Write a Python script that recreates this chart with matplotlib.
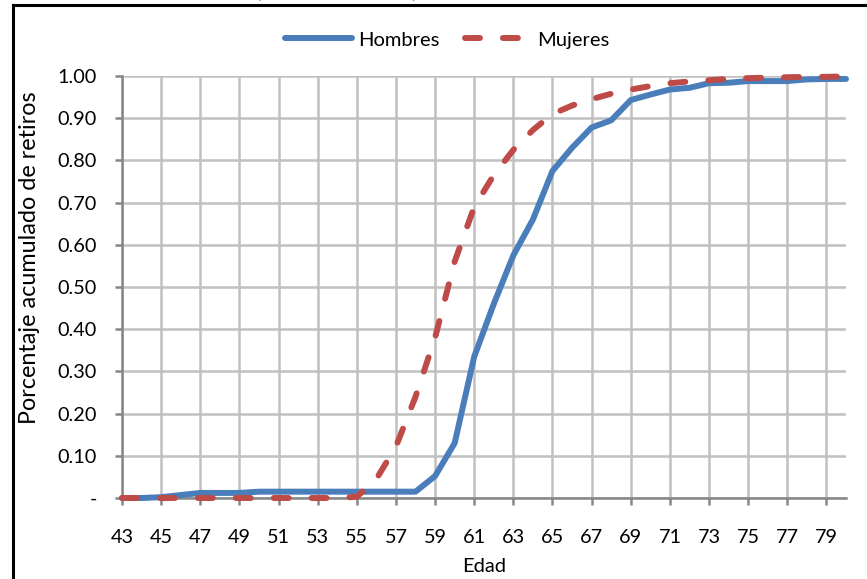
import matplotlib
matplotlib.use("Agg")
import matplotlib.pyplot as plt
from matplotlib.lines import Line2D
from matplotlib.ticker import FixedLocator, FuncFormatter

plt.rcParams['font.family'] = ['Lato', 'DejaVu Sans']

ages = list(range(43, 81))
hombres = [0.000, 0.000, 0.002, 0.007, 0.012, 0.012, 0.012, 0.015,
           0.015, 0.015, 0.015, 0.015, 0.015, 0.015, 0.015, 0.015,
           0.052, 0.130, 0.335, 0.460, 0.575, 0.660, 0.775, 0.830,
           0.878, 0.895, 0.943, 0.956, 0.968, 0.972, 0.983, 0.984,
           0.988, 0.988, 0.988, 0.992, 0.993, 0.993]
mujeres = [0.000, 0.000, 0.000, 0.000, 0.000, 0.000, 0.000, 0.000,
           0.000, 0.000, 0.000, 0.000, 0.003, 0.045, 0.122, 0.240,
           0.380, 0.560, 0.690, 0.765, 0.825, 0.872, 0.910, 0.930,
           0.945, 0.958, 0.968, 0.976, 0.983, 0.987, 0.990, 0.993,
           0.995, 0.996, 0.997, 0.998, 0.998, 0.999]
xticks = list(range(43, 80, 2))
yticks = [0.0, 0.1, 0.2, 0.3, 0.4, 0.5, 0.6, 0.7, 0.8, 0.9, 1.0]

W, H = 867, 579
fig = plt.figure(figsize=(W / 100, H / 100), dpi=100)
ax = fig.add_axes([122 / W, 1 - 498 / H, (846 - 122) / W, (498 - 76) / H])

blue = '#4a7ebb'
red = '#be4b48'
grid_c = '#c0c0c0'
spine_c = '#868686'

ax.plot(ages, hombres, color=blue, lw=4.3, solid_capstyle='round',
        solid_joinstyle='round', label='Hombres', zorder=3, clip_on=False)
ax.plot(ages, mujeres, color=red, lw=4.3, linestyle=(0, (2.5, 3.85)),
        dash_capstyle='round', label='Mujeres', zorder=4, clip_on=False)

ax.set_xlim(43, 80)
ax.set_ylim(0, 1.0)
ax.xaxis.set_major_locator(FixedLocator(xticks))
ax.yaxis.set_major_locator(FixedLocator(yticks))
ax.yaxis.set_major_formatter(FuncFormatter(lambda v, p: '-' if abs(v) < 1e-9 else f'{v:.2f}'))

ax.grid(True, color=grid_c, lw=1.8, zorder=0)
ax.set_axisbelow(True)
for s in ['top', 'right']:
    ax.spines[s].set_visible(False)
for s in ['left', 'bottom']:
    ax.spines[s].set_color(spine_c)
    ax.spines[s].set_linewidth(1.8)
    ax.spines[s].set_zorder(2)
ax.tick_params(axis='both', colors=spine_c, width=1.8, length=5, labelcolor='black',
               labelsize=14.3, direction='out')
ax.tick_params(axis='x', pad=17)
ax.tick_params(axis='y', pad=13)

ax.set_xlabel('Edad', fontsize=14.5, labelpad=9)
ax.set_ylabel('Porcentaje acumulado de retiros', fontsize=16.8)
ax.yaxis.set_label_coords((40 - 122) / 724, (498 - 258) / 422)

fig.legend(loc='center', bbox_to_anchor=(0.516, 1 - 40 / H), ncol=2, frameon=False,
           fontsize=14.5, handlelength=3.3, handletextpad=0.3, columnspacing=1.25)

# outer frame
fig.add_artist(Line2D([13 / W, 1.0], [1 - 5 / H, 1 - 5 / H], transform=fig.transFigure,
                      color='black', lw=2.2))
fig.add_artist(Line2D([13 / W, 13 / W], [1 - 5 / H, 0], transform=fig.transFigure,
                      color='black', lw=2.2))
# cropped green title parentheses
fig.text(258 / W, 1 + 2 / H, '(', color='#2ca02c', fontsize=14, fontweight='bold',
         ha='center', va='baseline')
fig.text(414 / W, 1 + 2 / H, ')', color='#2ca02c', fontsize=14, fontweight='bold',
         ha='center', va='baseline')

fig.savefig('out.png', dpi=100)
